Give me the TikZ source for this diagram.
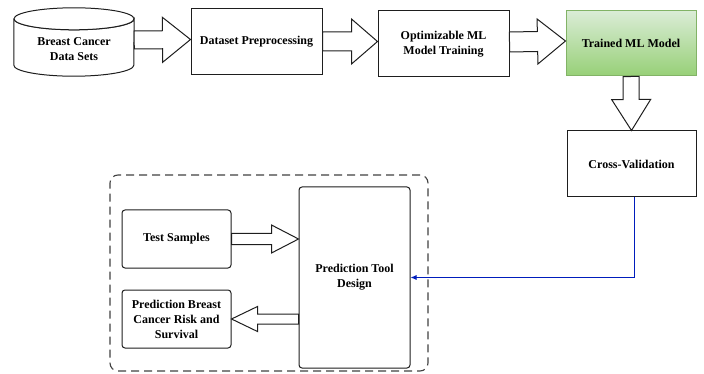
\documentclass[tikz,border=0pt]{standalone}
\usepackage{fontspec}
\setmainfont{Liberation Serif}
\usetikzlibrary{arrows.meta,calc}

\definecolor{boxline}{RGB}{30,30,30}
\definecolor{greentop}{RGB}{218,236,214}
\definecolor{greenbot}{RGB}{151,208,119}
\definecolor{greenline}{RGB}{130,179,102}
\definecolor{cvblue}{RGB}{0,29,188}

\tikzset{
  stage/.style={draw=boxline, line width=1pt, fill=white, align=center,
    font=\fontsize{12}{15}\selectfont\bfseries},
  stagetext/.style={align=center, font=\fontsize{12}{15}\selectfont\bfseries},
  dbshape/.style={draw=boxline, line width=1pt, fill=white},
  frame/.style={draw=black!75, line width=1.1pt, dash pattern=on 8pt off 5pt,
    rounded corners=8pt},
  blockarrow/.style={draw=boxline, line width=1pt, fill=white},
  linkarrow/.style={draw=cvblue, line width=0.9pt, -{Latex[length=6pt,width=5pt]}}
}

% block arrow: from, to, half shaft, half head, head length
\newcommand{\blockarr}[5]{%
  \coordinate (ba) at (#1);
  \coordinate (bb) at (#2);
  \coordinate (bh) at ($(bb)!#5!(ba)$);
  \draw[blockarrow] ($(ba)!#3!90:(bb)$) -- ($(bh)!#3!-90:(ba)$)
    -- ($(bh)!#4!-90:(ba)$) -- (bb) -- ($(bh)!#4!90:(ba)$)
    -- ($(bh)!#3!90:(ba)$) -- ($(ba)!#3!-90:(bb)$) -- cycle;
}

\begin{document}
\begin{tikzpicture}[x=1pt,y=-1pt]
    \useasboundingbox (0,0) rectangle (704,374);

    % Data store (cylinder)
    \node[minimum width=120pt, minimum height=68pt, inner sep=0pt] (data) at (74,42) {};
    \draw[dbshape] ($(data.north west)+(0,11)$) -- ($(data.south west)+(0,-11)$)
      arc[start angle=180, end angle=360, x radius=60pt, y radius=11pt]
      -- ($(data.north east)+(0,11)$)
      arc[start angle=0, end angle=-180, x radius=60pt, y radius=11pt];
    \draw[dbshape] ($(data.north)+(0,11)$) ellipse[x radius=60pt, y radius=11pt];
    \node[stagetext] (datatext) at ($(data.center)+(0,7.5)$) {Breast Cancer\\Data Sets};

    % Top row
    \node[stage, minimum width=131pt, minimum height=66pt] (prep) at (256.5,41.5)
      {Dataset Preprocessing};
    \node[stage, minimum width=131pt, minimum height=66pt] (train) at (443.5,44)
      {Optimizable ML\\Model Training};
    \node[stage, draw=greenline, top color=greentop, bottom color=greenbot,
      minimum width=130pt, minimum height=65pt] (model) at (631,43.5)
      {Trained ML Model};

    % Validation
    \node[stage, minimum width=129pt, minimum height=66pt] (cv) at (631.5,164)
      {Cross-Validation};

    % Prediction tool group
    \node[frame, minimum width=318pt, minimum height=196pt] (group) at (269,273) {};
    \node[stage, rounded corners=3pt, minimum width=111pt, minimum height=181pt]
      (tool) at (354.5,277.5) {Prediction Tool\\Design};
    \node[stage, rounded corners=3pt, minimum width=109pt, minimum height=58pt]
      (test) at (176.5,239) {Test Samples};
    \node[stage, rounded corners=3pt, minimum width=109pt, minimum height=58pt]
      (risk) at (176.5,319) {Prediction Breast\\Cancer Risk and\\Survival};

    % Block arrows
    \blockarr{$(data.east)+(0,-2)$}{$(prep.west)+(0,-2)$}{9pt}{22.5pt}{28pt}
    \blockarr{prep.east}{prep.east -| train.west}{9.5pt}{22.5pt}{26pt}
    \blockarr{$(train.east)+(0,-2)$}{$(model.west)+(0,-2.5)$}{10pt}{22.5pt}{28pt}
    \blockarr{model.south}{cv.north}{8pt}{19.5pt}{31pt}
    \blockarr{test.east}{test.east -| tool.west}{5.5pt}{14pt}{27pt}
    \blockarr{tool.west |- risk.east}{risk.east}{5pt}{12.5pt}{26pt}

    % Validation result to tool
    \draw[linkarrow] ($(cv.south)+(2.5,0)$) |- (tool.east);
\end{tikzpicture}
\end{document}
